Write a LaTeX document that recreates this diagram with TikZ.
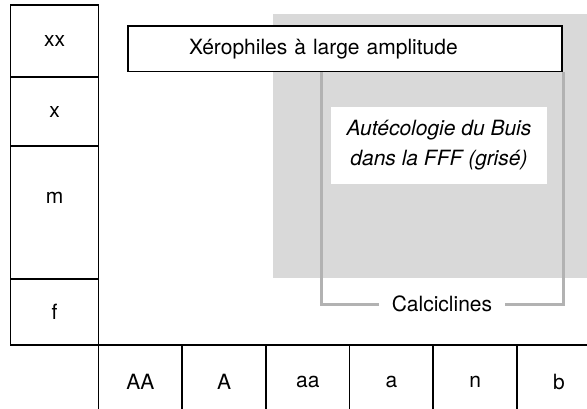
\documentclass[tikz,border=0pt]{standalone}
\usepackage{fontspec}
\setmainfont{TeX Gyre Heros}
\usetikzlibrary{positioning}
\definecolor{zone}{RGB}{217,217,217}
\definecolor{bord}{RGB}{178,178,178}

\begin{document}
\begin{tikzpicture}[x=1pt, y=-1pt,
  every node/.style={font=\fontsize{21}{30}\selectfont, outer sep=0pt},
  cell/.style={draw, line width=1.7pt, minimum width=88pt},
  grid/.style={line width=1.7pt},
  brk/.style={draw=bord, line width=3pt}]
\useasboundingbox (0,0) rectangle (587,409);
\fill[zone] (273,14) rectangle (600,278);
\node[cell, minimum height=72pt] (xx) at (54.5,41) {xx};
\node[cell, minimum height=69pt, below=0pt of xx] (x) {x};
\node[cell, minimum height=133pt, text depth=30pt, below=0pt of x] (m) {m};
\node[cell, minimum height=66pt, below=0pt of m] (f) {f};
\draw[grid] (f.south west) -- (600,345);
\foreach \i in {0,...,5}
  \draw[grid] (98.5+83.7*\i,345) -- ++(0,70);
\foreach \lab [count=\i] in {AA,A,aa,a,n,b}
  \node (col\i) at (56.65+83.7*\i,382) {\lab};
\node[draw, fill=white, line width=1.7pt, minimum height=45.5pt,
  text width=312pt, inner xsep=61pt, align=left] (xero) at (345,48.8)
  {Xérophiles à large amplitude};
\coordinate (tl) at (321,72);
\coordinate (tr) at (563,72);
\node[minimum width=126pt] (calc) at (442,304) {Calciclines};
\draw[brk] (calc.west) -| (tl);
\draw[brk] (calc.east) -| (tr);
\node[fill=white, minimum width=216pt, minimum height=77pt, align=center,
  font=\fontsize{21}{30}\selectfont\itshape] (note) at (439,145.5)
  {Autécologie du Buis\\dans la FFF (grisé)};
\end{tikzpicture}
\end{document}
